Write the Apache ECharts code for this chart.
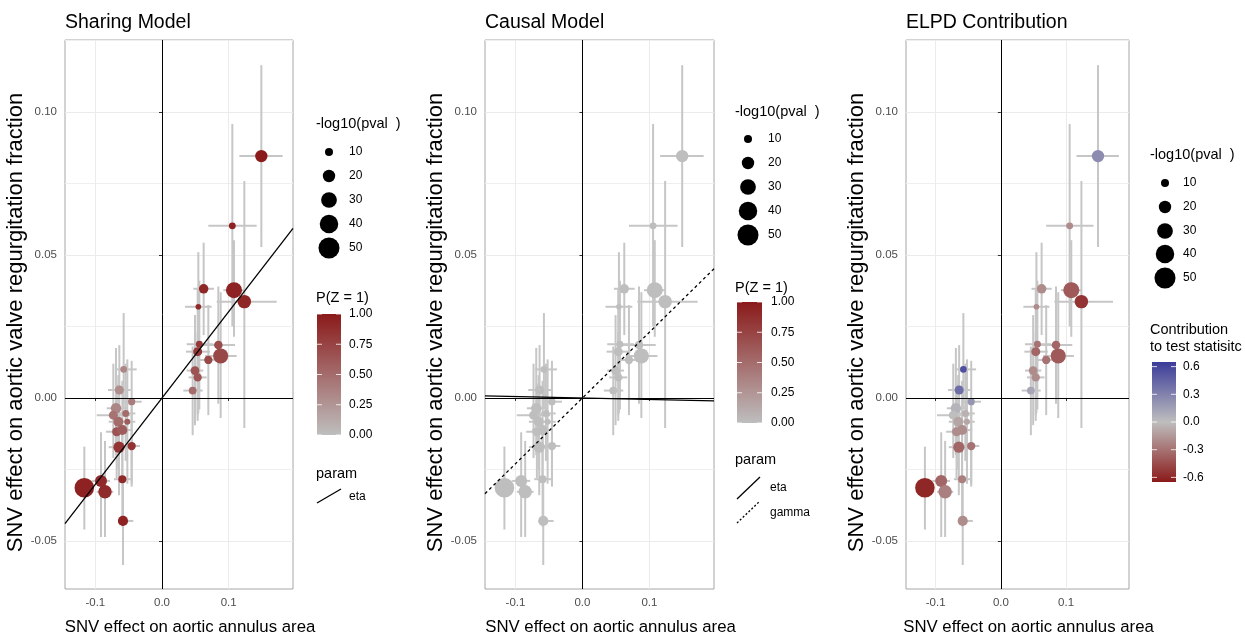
<!DOCTYPE html>
<html><head><meta charset="utf-8">
<script src="https://cdn.jsdelivr.net/npm/echarts@6/dist/echarts.min.js"></script>
<style>html,body{margin:0;padding:0;background:#fff}#c{width:1245px;height:635px}</style>
</head><body><div id="c"></div>
<script>
// ---- data ----
const snvX    = [0.149, 0.1055, 0.0625, 0.108, 0.1235, 0.0545, 0.056, 0.0535, 0.0845, 0.088, 0.0695, 0.0495, 0.0535, 0.046,
                 -0.0575, -0.064, -0.0455, -0.069, -0.073, -0.0545, -0.0655, -0.052, -0.068, -0.0595, -0.0645, -0.0455, -0.0595, -0.1165, -0.0915, -0.0855, -0.0585];
const snvY    = [0.0846, 0.0602, 0.0382, 0.0377, 0.0337, 0.0319, 0.0188, 0.0162, 0.0185, 0.0147, 0.0133, 0.0096, 0.0072, 0.0026,
                 0.0100, 0.0028, -0.0013, -0.0036, -0.006, -0.0054, -0.0083, -0.0083, -0.0118, -0.0112, -0.0172, -0.0168, -0.0284, -0.0314, -0.029, -0.0328, -0.043];
const xLo     = [0.116, 0.0695, 0.047, 0.092, 0.082, 0.0345, 0.037, 0.036, 0.0595, 0.0645, 0.055, 0.037, 0.04, 0.032,
                 -0.0705, -0.081, -0.058, -0.083, -0.098, -0.068, -0.08, -0.064, -0.084, -0.075, -0.08, -0.058, -0.072, -0.130, -0.105, -0.098, -0.0655];
const xHi     = [0.181, 0.142, 0.078, 0.124, 0.172, 0.0745, 0.077, 0.072, 0.1095, 0.112, 0.084, 0.062, 0.067, 0.061,
                 -0.038, -0.047, -0.0305, -0.052, -0.048, -0.04, -0.05, -0.04, -0.052, -0.044, -0.049, -0.033, -0.047, -0.103, -0.078, -0.073, -0.043];
const yLo     = [0.0528, 0.025, 0.022, 0.0214, -0.0105, -0.0053, -0.004, -0.006, -0.002, -0.007, -0.006, -0.0095, -0.008, -0.013,
                 -0.004, -0.012, -0.030, -0.020, -0.021, -0.022, -0.025, -0.030, -0.028, -0.028, -0.034, -0.031, -0.045, -0.046, -0.0486, -0.0486, -0.0584];
const yHi     = [0.1164, 0.0958, 0.0543, 0.0552, 0.0759, 0.051, 0.041, 0.038, 0.039, 0.037, 0.0325, 0.029, 0.023, 0.018,
                 0.0297, 0.0185, 0.013, 0.0175, 0.012, 0.012, 0.008, 0.0135, 0.005, 0.006, 0.0, -0.003, -0.012, -0.017, -0.012, -0.015, -0.028];
const negLogP = [20, 8, 13, 31, 23, 6, 8, 12, 11, 28, 10.5, 11.5, 10.5, 9.5,
                 7.5, 12, 8.5, 15, 12, 8, 14, 6.5, 12, 14.5, 17, 10.5, 10, 44, 19, 23, 14.5];
const pZ      = [1.0, 0.95, 0.92, 0.95, 0.92, 0.9, 0.82, 0.82, 0.7, 0.72, 0.72, 0.65, 0.65, 0.5,
                 0.35, 0.3, 0.4, 0.35, 0.45, 0.5, 0.5, 0.6, 0.65, 0.6, 0.85, 0.85, 0.9, 0.95, 0.9, 0.9, 0.95];
const contrib = [0.25, -0.2, -0.2, -0.4, -0.55, -0.2, -0.3, -0.35, -0.35, -0.4, -0.3, -0.2, -0.2, 0.12,
                 0.55, 0.4, 0.2, 0.05, 0.0, -0.05, -0.1, -0.1, -0.2, -0.2, -0.35, -0.3, -0.25, -0.6, -0.35, -0.25, -0.2];

const xTickVals = [-0.1, 0, 0.1];
const yTickVals = [-0.05, 0, 0.05, 0.10];
const sizeBreaks = [10, 20, 30, 40, 50];
const pzBreaks = [1.00, 0.75, 0.50, 0.25, 0.00];
const contribBreaks = [0.6, 0.3, 0.0, -0.3, -0.6];

const etaSharing = 0.302;
const etaCausal = -0.005;
const gammaCausal = 0.23;

const X_MIN = -0.1455, X_MAX = 0.1965, Y_MIN = -0.0668, Y_MAX = 0.1252;
const C_MIN = -0.65, C_MAX = 0.65;

// ---- styling ----
const FONT = 'Liberation Sans, Arial, sans-serif';
const GREY = '#BEBEBE', RED = '#8B1A1A', BLUE = '#3B3B9A', ERR = '#C6C6C6';
function dia(v) { return 3.33 * Math.sqrt(v) - 2.5; }

const pts = snvX.map((x, i) => [x, snvY[i], xLo[i], xHi[i], yLo[i], yHi[i], negLogP[i], pZ[i], contrib[i]]);

const grids = [
  { left: 65, width: 228, top: 40, height: 549 },
  { left: 485, width: 229, top: 40, height: 549 },
  { left: 906, width: 223, top: 40, height: 549 }
].map(g => Object.assign(g, { show: true, borderColor: '#A6A6A6', borderWidth: 1, backgroundColor: 'transparent',
  containLabel: false, outerBoundsMode: 'none' }));

const titles = ['Sharing Model', 'Causal Model', 'ELPD Contribution'];

const xAxes = grids.map((g, i) => ({
  type: 'value', gridIndex: i, min: X_MIN, max: X_MAX, splitNumber: 7,
  name: 'SNV effect on aortic annulus area', nameLocation: 'middle', nameGap: 30,
  nameTextStyle: { fontSize: 16.8, color: '#000', fontFamily: FONT, padding: [0, 0, 0, 22] },
  axisLine: { show: false },
  axisTick: { show: true, customValues: xTickVals, length: 3, lineStyle: { color: '#333' } },
  axisLabel: { customValues: xTickVals, formatter: v => v.toFixed(1), color: '#4D4D4D', fontSize: 11.5, margin: 8, fontFamily: FONT },
  splitLine: { show: true, lineStyle: { color: '#EBEBEB', width: 1 } }
}));
const yAxes = grids.map((g, i) => ({
  type: 'value', gridIndex: i, min: Y_MIN, max: Y_MAX, splitNumber: 4,
  name: 'SNV effect on aortic valve regurgitation fraction', nameLocation: 'middle', nameGap: 31, nameRotate: 90,
  nameTextStyle: { fontSize: 22, color: '#000', fontFamily: FONT, padding: [0, 16, 0, 0] },
  axisLine: { show: false },
  axisTick: { show: true, customValues: yTickVals, length: 3, lineStyle: { color: '#333' } },
  axisLabel: { customValues: yTickVals, formatter: v => v.toFixed(2), color: '#4D4D4D', fontSize: 11.5, margin: 8, fontFamily: FONT },
  splitLine: { show: true, lineStyle: { color: '#EBEBEB', width: 1 } },
  minorTick: { show: false, splitNumber: 2 },
  minorSplitLine: { show: true, lineStyle: { color: '#EFEFEF', width: 1 } }
}));

function errRender(params, api) {
  const x = api.value(0), y = api.value(1);
  const h1 = api.coord([api.value(2), y]), h2 = api.coord([api.value(3), y]);
  const v1 = api.coord([x, api.value(4)]), v2 = api.coord([x, api.value(5)]);
  return { type: 'group', children: [
    { type: 'line', shape: { x1: h1[0], y1: h1[1], x2: h2[0], y2: h2[1] }, style: { stroke: ERR, lineWidth: 2 } },
    { type: 'line', shape: { x1: v1[0], y1: v1[1], x2: v2[0], y2: v2[1] }, style: { stroke: ERR, lineWidth: 2 } }
  ] };
}

const series = [];
const scatterIdx = [];
for (let i = 0; i < 3; i++) {
  series.push({
    type: 'line', xAxisIndex: i, yAxisIndex: i, data: [], silent: true, z: 2,
    markLine: { silent: true, symbol: 'none', animation: false, label: { show: false },
      lineStyle: { color: '#000', width: 1, type: 'solid' }, data: [{ xAxis: 0 }, { yAxis: 0 }] }
  });
  series.push({
    type: 'custom', xAxisIndex: i, yAxisIndex: i, data: pts, renderItem: errRender, clip: true, z: 3,
    encode: { x: 0, y: 1 }, silent: true, animation: false
  });
  scatterIdx.push(series.length);
  series.push({
    type: 'scatter', xAxisIndex: i, yAxisIndex: i, data: pts, z: 4, animation: false,
    symbolSize: d => dia(d[6]), encode: { x: 0, y: 1 },
    itemStyle: { opacity: 1, color: GREY }
  });
}
function slopeLine(axis, slope, dashed) {
  return {
    type: 'line', xAxisIndex: axis, yAxisIndex: axis, z: 5, symbol: 'none', silent: true, animation: false, clip: true,
    data: [[X_MIN, slope * X_MIN], [X_MAX, slope * X_MAX]],
    lineStyle: { color: '#000', width: 1.3, type: dashed ? [3, 3] : 'solid' }
  };
}
series.push(slopeLine(0, etaSharing, false));
series.push(slopeLine(1, etaCausal, false));
series.push(slopeLine(1, gammaCausal, true));

// ---- legends (graphic) ----
const graphic = [];
function txt(x, y, s, size) {
  graphic.push({ type: 'text', x: x, y: y, silent: true,
    style: { text: s, fill: '#000', fontSize: size, fontFamily: FONT, verticalAlign: 'middle', align: 'left' } });
}
function sizeLegend(x0, yTitle, cx, ys, lx) {
  txt(x0, yTitle, '-log10(pval  )', 14.5);
  sizeBreaks.forEach((v, k) => {
    graphic.push({ type: 'circle', silent: true, shape: { cx: cx, cy: ys[k], r: dia(v) / 2 }, style: { fill: '#000' } });
    txt(lx, ys[k], String(v), 12);
  });
}
function colorBar(x, y, w, h, colors, labels, lx, labelYs) {
  graphic.push({ type: 'rect', silent: true, shape: { x: x, y: y, width: w, height: h },
    style: { fill: new echarts.graphic.LinearGradient(0, 0, 0, 1, colors.map((c, k) => ({ offset: k / (colors.length - 1), color: c }))) } });
  labels.forEach((s, k) => {
    const yy = labelYs[k];
    graphic.push({ type: 'line', silent: true, shape: { x1: x, y1: yy, x2: x + 5, y2: yy }, style: { stroke: 'rgba(255,255,255,0.8)', lineWidth: 1 } });
    graphic.push({ type: 'line', silent: true, shape: { x1: x + w - 5, y1: yy, x2: x + w, y2: yy }, style: { stroke: 'rgba(255,255,255,0.8)', lineWidth: 1 } });
    txt(lx, yy, s, 12);
  });
}
function lineKey(x1, y1, x2, y2, dashed) {
  graphic.push({ type: 'line', silent: true, shape: { x1: x1, y1: y1, x2: x2, y2: y2 },
    style: { stroke: '#000', lineWidth: 1.3, lineDash: dashed ? [2, 2] : null } });
}
function ySpread(top, bottom, n) { const a = []; for (let k = 0; k < n; k++) a.push(top + (bottom - top) * k / (n - 1)); return a; }

// panel 1 legend
sizeLegend(316, 124, 329, [152, 176, 200, 224, 248], 349);
txt(316, 298, 'P(Z = 1)', 14.5);
colorBar(317, 314, 24, 121, [RED, GREY], pzBreaks.map(v => v.toFixed(2)), 349, ySpread(314, 435, 5));
txt(316, 474, 'param', 14.5);
lineKey(317, 503, 341, 489, false); txt(349, 497, 'eta', 12);

// panel 2 legend
sizeLegend(735, 112, 748, [139, 163, 187, 211, 235], 768);
txt(735, 288, 'P(Z = 1)', 14.5);
colorBar(737, 302, 25, 121, [RED, GREY], pzBreaks.map(v => v.toFixed(2)), 771, ySpread(302, 423, 5));
txt(735, 460, 'param', 14.5);
lineKey(737, 499, 760, 477, false); txt(770, 488, 'eta', 12);
lineKey(737, 523, 760, 501, true); txt(770, 513, 'gamma', 12);

// panel 3 legend
sizeLegend(1150, 155, 1165, [183, 207, 231, 254, 278], 1183);
txt(1150, 330, 'Contribution', 14.5);
txt(1150, 347, 'to test statisitc', 14.5);
const cbTop = 362, cbH = 120;
colorBar(1152, cbTop, 24, cbH, [BLUE, GREY, RED], contribBreaks.map(v => v.toFixed(1)), 1183,
  contribBreaks.map(v => cbTop + (C_MAX - v) / (C_MAX - C_MIN) * cbH));

const option = {
  backgroundColor: '#fff',
  animation: false,
  title: titles.map((t, i) => ({ text: t, left: grids[i].left, top: 13, padding: 0,
    textStyle: { fontSize: 19.5, fontWeight: 'normal', color: '#000', fontFamily: FONT } })),
  grid: grids,
  xAxis: xAxes,
  yAxis: yAxes,
  visualMap: [
    { type: 'continuous', show: false, seriesIndex: scatterIdx[0], dimension: 7, min: 0, max: 1, inRange: { color: [GREY, RED] } },
    { type: 'continuous', show: false, seriesIndex: scatterIdx[2], dimension: 8, min: C_MIN, max: C_MAX, inRange: { color: [RED, GREY, BLUE] } }
  ],
  series: series,
  graphic: graphic
};
const chart = echarts.init(document.getElementById('c'), null, { renderer: 'canvas' });
chart.setOption(option);
</script>
</body></html>
